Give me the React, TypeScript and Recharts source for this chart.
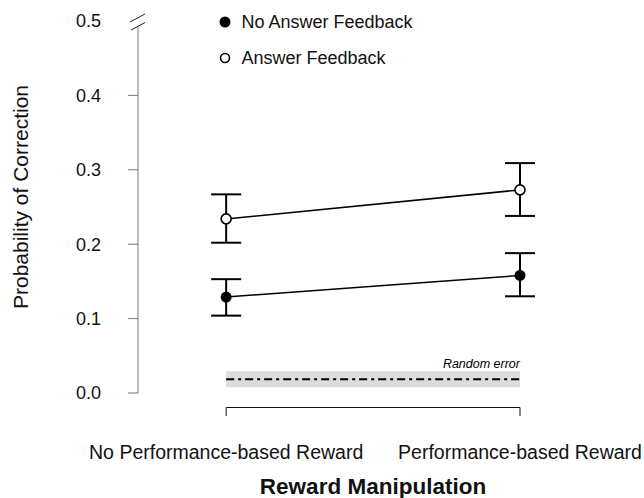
import { ComposedChart, Line, ErrorBar, XAxis, YAxis, ReferenceLine, ReferenceArea, Legend } from 'recharts';

const categories = ['No Performance-based Reward', 'Performance-based Reward'];

const noFeedbackMean = [0.129, 0.158];
const noFeedbackLow = [0.104, 0.13];
const noFeedbackHigh = [0.153, 0.188];

const feedbackMean = [0.234, 0.273];
const feedbackLow = [0.202, 0.238];
const feedbackHigh = [0.267, 0.309];

const randomError = 0.0186;
const randomErrorBand = [0.0078, 0.0294];

const yTicks = [0, 0.1, 0.2, 0.3, 0.4, 0.5];

const FONT = '"Liberation Sans", Arial, sans-serif';
const AXIS_GREY = '#777';
const BRACKET_Y = -0.0195;
const BRACKET_TICK_Y = -0.031;

const toSeries = (mean: number[], low: number[], high: number[]) =>
  categories.map((_, i) => ({ x: i, y: mean[i], err: [mean[i] - low[i], high[i] - mean[i]] }));

const noFeedback = toSeries(noFeedbackMean, noFeedbackLow, noFeedbackHigh);
const feedback = toSeries(feedbackMean, feedbackLow, feedbackHigh);

const FilledDot = (props: any) => (
  <circle key={props.index} cx={props.cx} cy={props.cy} r={5.5} fill="#000" stroke="none" />
);

const OpenDot = (props: any) => (
  <circle key={props.index} cx={props.cx} cy={props.cy} r={5} fill="#fff" stroke="#000" strokeWidth={1.6} />
);

const YTick = (props: any) => {
  const { x, y, payload } = props;
  const axisX = x + 37;
  return (
    <g>
      <text x={x} y={y} dy="0.355em" textAnchor="end" fontSize={18} fill="#111" fontFamily={FONT}>
        {payload.value.toFixed(1)}
      </text>
      {payload.value === 0.5 ? (
        <g stroke="#222" strokeWidth={1}>
          <line x1={axisX - 8} y1={y + 1} x2={axisX + 7} y2={y - 7} />
          <line x1={axisX - 7} y1={y + 9} x2={axisX + 7} y2={y + 1.5} />
        </g>
      ) : (
        <line x1={axisX - 10} y1={y} x2={axisX} y2={y} stroke={AXIS_GREY} strokeWidth={1} />
      )}
    </g>
  );
};

const XTick = (props: any) => {
  const { x, y, payload } = props;
  return (
    <text x={x} y={y} dy="0.71em" textAnchor="middle" fontSize={19.5} fill="#111" fontFamily={FONT}>
      {categories[payload.value]}
    </text>
  );
};

const YTitle = (props: any) => {
  const vb = props.viewBox;
  const cx = 28;
  const cy = vb.y + vb.height / 2 - 10;
  return (
    <text x={cx} y={cy} transform={`rotate(-90, ${cx}, ${cy})`} textAnchor="middle" fontSize={21} fill="#111" fontFamily={FONT}>
      Probability of Correction
    </text>
  );
};

const XTitle = (props: any) => {
  const vb = props.viewBox;
  return (
    <text x={373} y={vb.y + vb.height - 4.5} textAnchor="middle" fontSize={22.5} fontWeight="bold" fill="#111" fontFamily={FONT}>
      Reward Manipulation
    </text>
  );
};

const RandomErrorLabel = (props: any) => {
  const vb = props.viewBox;
  return (
    <text x={vb.x + vb.width} y={vb.y - 3} textAnchor="end" fontSize={12.5} fontStyle="italic" fill="#000" fontFamily={FONT}>
      Random error
    </text>
  );
};

const legendItems = [
  { label: 'No Answer Feedback', filled: true },
  { label: 'Answer Feedback', filled: false },
];

const LegendContent = () => (
  <div style={{ fontFamily: FONT, fontSize: 18, color: '#111' }}>
    {legendItems.map((item) => (
      <div key={item.label} style={{ display: 'flex', alignItems: 'center', height: 36 }}>
        <svg width={12} height={12} style={{ marginRight: 10.5 }}>
          {item.filled ? (
            <circle cx={6} cy={6} r={5.5} fill="#000" />
          ) : (
            <circle cx={6} cy={6} r={4.5} fill="#fff" stroke="#000" strokeWidth={1.6} />
          )}
        </svg>
        <span>{item.label}</span>
      </div>
    ))}
  </div>
);

export default function App() {
  return (
    <div style={{ position: 'absolute', left: 0, top: 0, background: '#fff' }}>
      <ComposedChart width={644} height={498} margin={{ top: 21, right: 124, bottom: 0, left: 0 }} style={{ fontFamily: FONT }}>
        <XAxis
          type="number"
          dataKey="x"
          domain={[-0.3, 1]}
          ticks={[0, 1]}
          interval={0}
          axisLine={false}
          tickLine={false}
          tickSize={6}
          tickMargin={46}
          height={105}
          tick={<XTick />}
          label={<XTitle />}
        />
        <YAxis
          type="number"
          domain={[0, 0.5]}
          ticks={yTicks}
          interval={0}
          axisLine={false}
          tickLine={false}
          tickSize={10}
          tickMargin={27}
          width={138}
          tick={<YTick />}
          label={<YTitle />}
        />
        <Legend
          verticalAlign="middle"
          align="center"
          layout="vertical"
          content={<LegendContent />}
          wrapperStyle={{ top: 4, left: 219, width: 'auto' }}
        />
        <ReferenceLine
          segment={[{ x: -0.3, y: 0 }, { x: -0.3, y: 0.492 }]}
          stroke={AXIS_GREY}
          strokeWidth={1}
          ifOverflow="visible"
        />
        <ReferenceArea
          x1={0}
          x2={1}
          y1={randomErrorBand[0]}
          y2={randomErrorBand[1]}
          fill="#dcdcdc"
          fillOpacity={1}
          stroke="none"
          label={<RandomErrorLabel />}
        />
        <ReferenceLine
          segment={[{ x: 0, y: randomError }, { x: 1, y: randomError }]}
          stroke="#000"
          strokeWidth={2}
          strokeDasharray="8 4 3 4"
        />
        <ReferenceLine segment={[{ x: 0, y: BRACKET_Y }, { x: 1, y: BRACKET_Y }]} stroke="#111" strokeWidth={1} ifOverflow="visible" />
        <ReferenceLine segment={[{ x: 0, y: BRACKET_Y }, { x: 0, y: BRACKET_TICK_Y }]} stroke="#111" strokeWidth={1} ifOverflow="visible" />
        <ReferenceLine segment={[{ x: 1, y: BRACKET_Y }, { x: 1, y: BRACKET_TICK_Y }]} stroke="#111" strokeWidth={1} ifOverflow="visible" />
        <Line
          data={noFeedback}
          dataKey="y"
          stroke="#000"
          strokeWidth={1.5}
          dot={FilledDot}
          activeDot={false}
          isAnimationActive={false}
          legendType="none"
        >
          <ErrorBar dataKey="err" width={15} stroke="#000" strokeWidth={2} direction="y" />
        </Line>
        <Line
          data={feedback}
          dataKey="y"
          stroke="#000"
          strokeWidth={1.5}
          dot={OpenDot}
          activeDot={false}
          isAnimationActive={false}
          legendType="none"
        >
          <ErrorBar dataKey="err" width={15} stroke="#000" strokeWidth={2} direction="y" />
        </Line>
      </ComposedChart>
    </div>
  );
}
